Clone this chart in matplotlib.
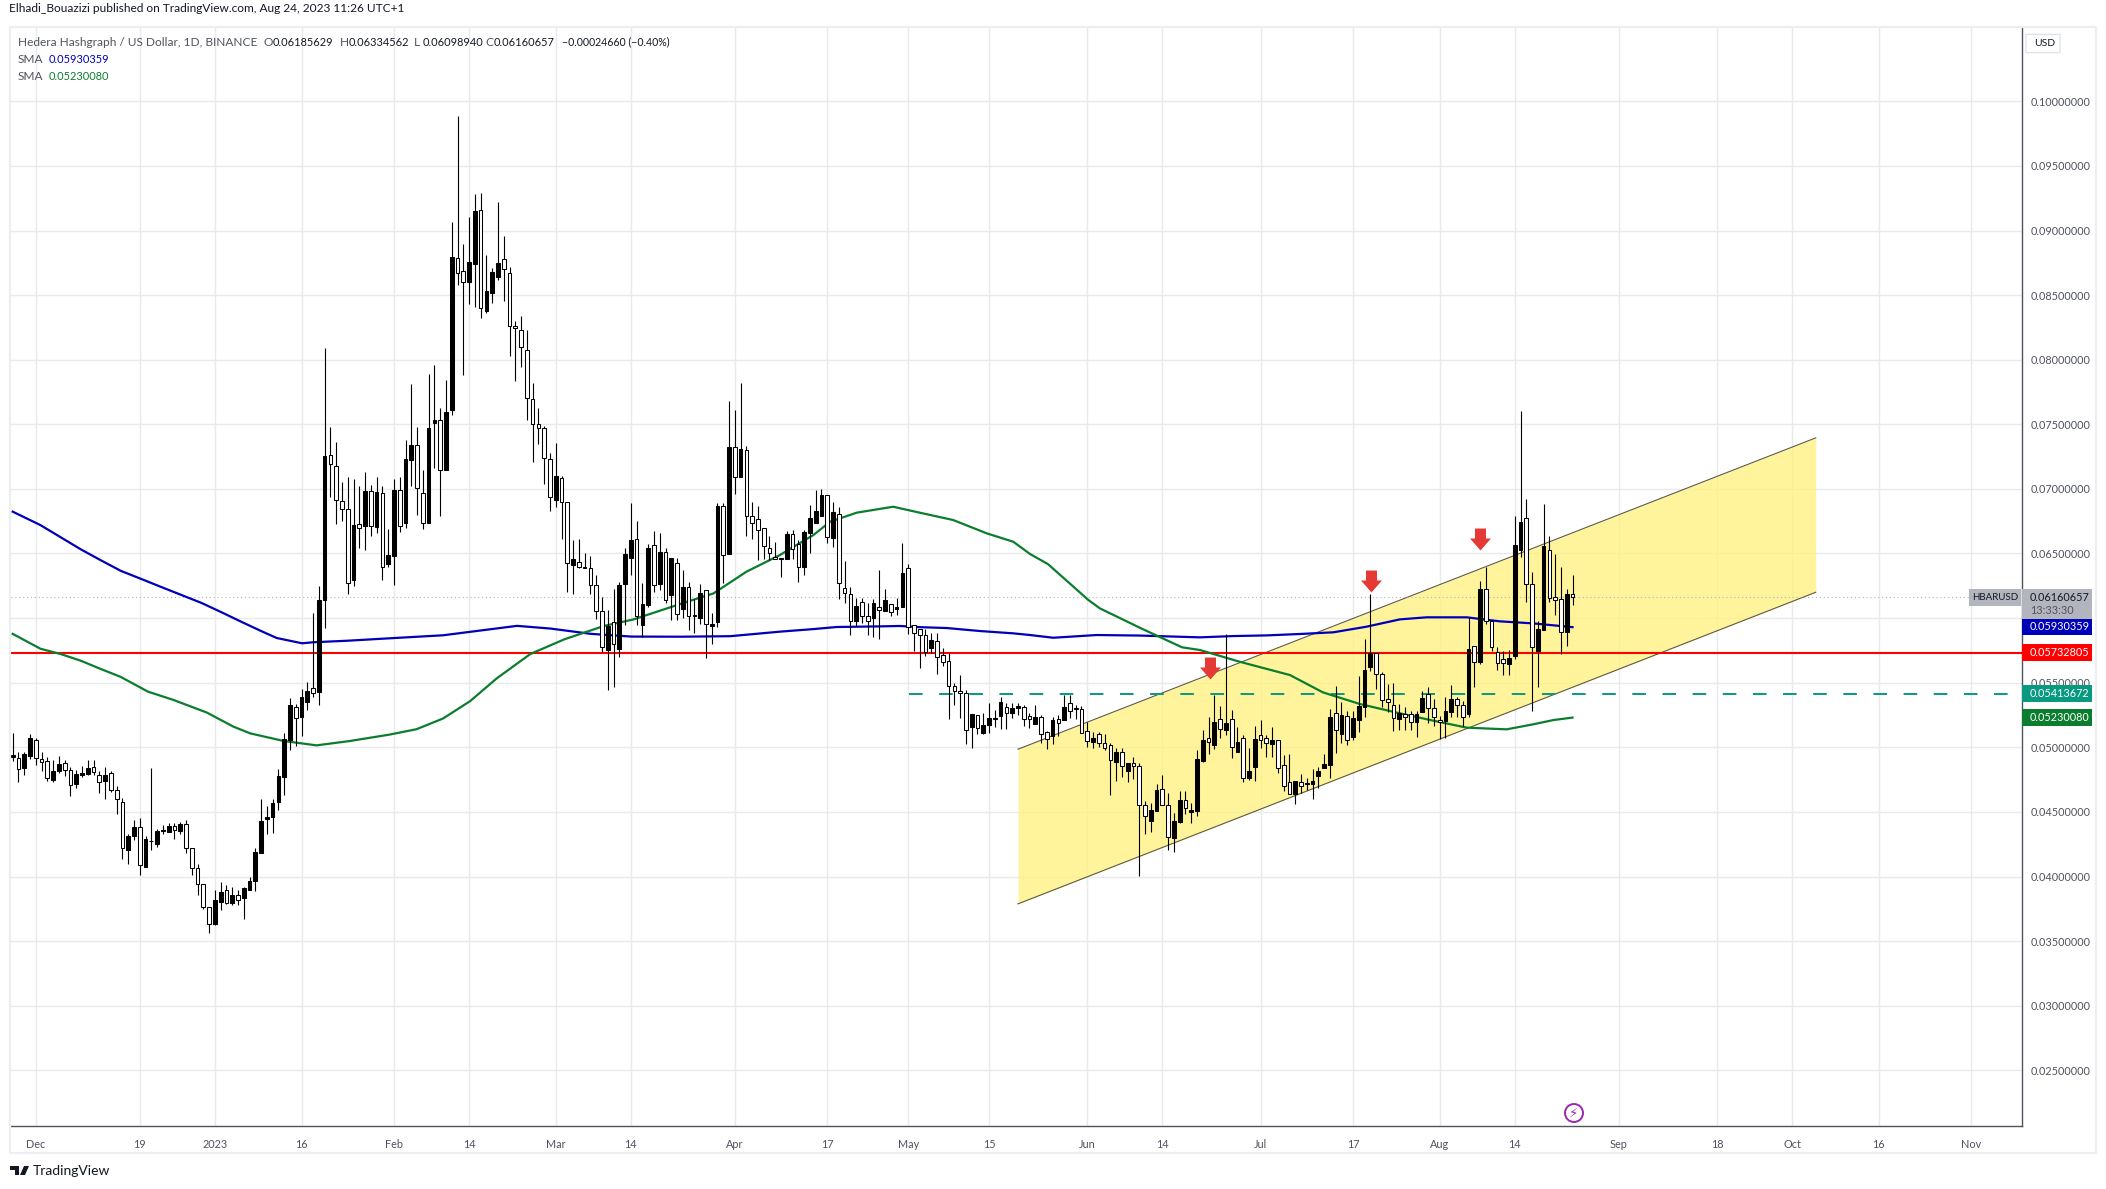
import numpy as np
import matplotlib
matplotlib.use("Agg")
import matplotlib.pyplot as plt
from matplotlib.patches import Rectangle, Circle, Polygon, FancyBboxPatch
from matplotlib.path import Path

# prices below are in 1e-5 USD, one candle per day from 2022-11-27
open_ = [4927,4914,4842,4935,5054,4906,4891,4748,4818,4875,4821,4717,4787,4795,4850,4787,4741,4798,4666,4580,
 4205,4313,4386,4073,4272,4251,4352,4344,4391,4352,4409,4223,4067,3943,3764,3630,3801,3896,3793,3855,
 3832,3894,3964,4181,4445,4461,4578,4772,5059,5311,5238,5347,5456,5425,6142,7266,7181,6909,6841,6295,
 6725,6709,6981,6707,6966,6419,6481,6989,6738,7227,7339,6972,6737,7512,7537,7145,7610,8789,8689,8603,
 8743,9156,8379,8518,8642,8776,8668,8263,8227,8072,7692,7506,7468,7233,6915,7086,6900,6412,6435,6394,
 6391,6260,6056,5750,5970,5760,6262,6464,6616,5950,6102,6562,6262,6515,6180,6430,6068,6238,6024,5998,
 6215,5941,5972,6865,6498,7321,7089,7298,6787,6764,6700,6540,6475,6460,6460,6648,6571,6398,6661,6738,
 6793,6950,6622,6803,6230,6184,5975,6122,6013,5998,6083,6057,6106,6073,6083,6385,5949,5913,5866,5768,
 5820,5712,5665,5477,5433,5418,5160,5252,5113,5175,5222,5245,5314,5263,5301,5309,5245,5183,5232,5116,
 5085,5216,5214,5340,5294,5294,5123,5043,5100,5036,5015,4889,4961,4819,4881,4852,4550,4432,4509,4674,
 4550,4300,4422,4589,4502,4509,4896,5069,5020,5221,5131,5216,4966,5069,4760,4845,5092,5074,5023,5054,
 4865,4729,4636,4734,4726,4713,4780,4842,4865,5263,5100,5245,5082,5211,5314,5624,5727,5565,5371,5325,
 5222,5260,5255,5196,5276,5410,5301,5209,5206,5276,5371,5325,5260,5781,5663,6223,5975,5740,5681,5647,
 5709,6527,6772,6261,5745,5908,6524,6161,6145,5890,6186]
high = [5108,4961,4966,5103,5070,4963,4922,4901,4932,4901,4844,4824,4855,4899,4899,4813,4844,4813,4699,4611,
 4331,4440,4451,4311,4837,4370,4396,4417,4417,4422,4440,4223,4093,3943,3764,3896,3959,3938,3922,3896,
 3922,3997,4223,4598,4549,4598,4829,5108,5380,5336,5450,5505,6041,6246,8087,7478,7362,7051,7090,7077,
 7020,7129,7030,7090,7020,6688,7077,7090,7377,7812,7478,7145,7888,7958,7630,7842,9065,9886,8892,9107,
 9282,9287,8810,8707,9220,8957,8714,8299,8337,8229,7816,7630,7486,7274,7352,7099,6900,6608,6616,6500,
 6479,6330,6164,6061,6229,6280,6546,6887,6750,6268,6577,6673,6655,6546,6464,6464,6372,6279,6145,6261,
 6215,6037,6888,6888,7680,7610,7817,7332,6898,6867,6700,6635,6586,6465,6674,6682,6604,6680,6875,6991,
 6999,6950,6898,6860,6442,6243,6153,6153,6114,6145,6372,6222,6106,6153,6578,6418,5949,5913,5913,5882,
 5882,5771,5732,5495,5557,5443,5255,5252,5263,5340,5289,5387,5340,5340,5340,5327,5263,5325,5250,5129,
 5237,5250,5402,5405,5327,5320,5198,5121,5121,5100,5036,4992,4992,4881,4922,4876,4584,4566,4716,4785,
 4643,4489,4661,4661,4566,4979,5134,5234,5404,5319,5875,5288,5154,5095,4992,5165,5211,5095,5154,5054,
 4940,4948,4736,4793,4765,4832,4850,4945,5294,5474,5348,5283,5278,5554,5836,6184,5727,5585,5487,5495,
 5335,5309,5283,5283,5438,5464,5371,5242,5392,5482,5392,5356,6006,5781,6287,6398,5975,5776,5748,5753,
 6790,7603,6922,6354,5977,6880,6635,6496,6393,6225,6335]
low = [4896,4733,4787,4912,4862,4818,4741,4733,4798,4780,4624,4686,4772,4787,4787,4647,4601,4655,4484,4135,
 4096,4285,4010,4073,4205,4225,4326,4342,4287,4329,4181,4010,3860,3749,3560,3622,3744,3785,3780,3777,
 3668,3894,3891,4181,4326,4337,4513,4629,4979,5013,5088,5285,5386,5324,5922,6940,6730,6753,6186,6248,
 6543,6528,6637,6660,6295,6393,6256,6668,6701,7025,6797,6691,6737,7158,6791,7145,7574,8578,7881,8430,
 8410,8322,8363,8441,8616,8456,8028,7837,7945,7537,7210,7346,7037,6830,6861,6616,6203,6185,6389,6384,
 6190,5990,5740,5441,5470,5700,5950,6332,5950,5850,6087,6203,6216,6118,5984,5984,5998,5908,5887,5954,
 5693,5799,5933,6274,6498,6960,7089,6638,6614,6449,6460,6449,6460,6320,6460,6460,6282,6336,6506,6738,
 6793,6584,6553,6150,6114,5869,5939,5959,5869,5856,5835,6057,6016,6024,6083,5877,5745,5611,5706,5727,
 5564,5629,5216,5327,5229,5028,4992,5100,5100,5113,5154,5144,5142,5224,5250,5165,5147,5183,5031,4984,
 5023,5090,5214,5224,5219,5113,5005,4992,5005,4979,4630,4739,4772,4734,4757,4006,4329,4344,4509,4550,
 4205,4192,4416,4483,4416,4471,4888,4948,4987,5069,5095,4917,4963,4734,4747,4741,4997,4927,4927,4798,
 4664,4636,4561,4643,4669,4600,4687,4842,4765,4958,5036,5018,5060,5121,5237,5593,5451,5309,5276,5129,
 5134,5134,5134,5082,5276,5185,5165,5062,5069,5237,5232,5165,5237,5464,5645,5954,5748,5598,5557,5562,
 5686,6475,6127,5283,5469,5908,6127,6024,5725,5784,6099]
close = [4938,4829,4945,5070,4919,4888,4764,4813,4868,4821,4712,4790,4798,4837,4805,4733,4782,4666,4603,4223,
 4316,4386,4091,4293,4277,4355,4363,4394,4363,4404,4223,4067,3943,3762,3632,3819,3881,3793,3858,3819,
 3912,3966,4192,4432,4464,4572,4774,5062,5326,5225,5388,5435,5419,6142,7253,7191,6916,6841,6274,6717,
 6701,6981,6709,6973,6398,6492,6989,6714,7230,7339,7004,6737,7468,7537,7150,7592,8794,8673,8603,8753,
 9148,8397,8528,8676,8745,8699,8263,8247,8095,7700,7506,7468,7243,6941,7096,6902,6430,6461,6399,6386,
 6260,6056,5780,5940,5800,6254,6495,6608,6017,6113,6541,6260,6508,6143,6464,6035,6238,6019,6016,6191,
 5951,5951,6867,6491,7321,7089,7306,6787,6733,6679,6560,6506,6460,6465,6651,6532,6398,6664,6772,6829,
 6950,6625,6818,6269,6191,5975,6093,6019,5975,6114,6060,6140,6044,6083,6346,5928,5882,5869,5740,5830,
 5701,5662,5477,5433,5418,5131,5255,5147,5170,5224,5227,5348,5263,5304,5317,5216,5216,5234,5105,5062,
 5209,5185,5309,5278,5301,5113,5046,5072,5036,4992,4899,4961,4852,4881,4852,4550,4465,4512,4667,4550,
 4303,4427,4589,4532,4512,4907,5054,5038,5193,5139,5185,5000,5038,4760,4814,5061,5054,5030,5054,4837,
 4698,4636,4736,4698,4713,4736,4814,4868,5232,5131,5250,5054,5224,5320,5598,5727,5565,5363,5353,5224,
 5263,5232,5198,5258,5379,5301,5237,5193,5281,5371,5325,5232,5761,5663,6223,5975,5774,5650,5650,5688,
 6563,6741,6261,5779,5916,6558,6158,6143,5890,6184,6161]

blue_day = [0,4.8,8.3,11.8,15.2,18.7,22.2,25.7,29.2,32.7,36.2,39.6,43.1,45.7,50.1,52,58,64.6,74.5,87.3,93.1,100.1,107.1,115.5,124.2,132.8,138.6,142.6,
 150.1,153.6,157,161.7,167.4,173.2,176.1,180.1,183,187.6,195,205.5,211.3,217,222.8,228.6,234.4,240.1,244.7,251.7,257.4,263.2,270]
blue_sma = [6824,6720,6626,6532,6449,6366,6304,6241,6179,6117,6044,5971,5898,5846,5805,5813,5825,5842,5867,5940,5919,5878,5857,5856,5860,5895,5915,5931,
 5936,5939,5930,5923,5900,5882,5869,5848,5856,5869,5865,5851,5861,5866,5877,5890,5934,5990,6006,6006,5975,5959,5930]
green_day = [0,4.8,8.3,11.8,15.2,18.7,23.4,27.8,33.6,38.2,41.1,46.9,52.6,58.4,65.2,69.9,74.5,79.2,83.8,89.6,95.5,102.4,107.4,116.7,
 121.3,127,132.8,138.6,141.5,146.1,152.4,157,162.8,168.6,173.2,176.1,179.2,186.2,188.2,195.4,202.4,205.5,212.4,221.1,226.8,233.2,
 240.1,245.9,251.7,258.6,263.2,266.7,270]
green_sma = [5878,5763,5722,5670,5607,5545,5431,5367,5269,5160,5108,5049,5015,5049,5098,5140,5223,5358,5534,5722,5836,5940,5989,6126,
 6191,6359,6488,6643,6746,6816,6862,6816,6759,6656,6591,6496,6418,6140,6075,5919,5774,5753,5662,5559,5425,5335,
 5263,5206,5152,5139,5178,5211,5230]

channel_day = [174, 312.1]
channel_top = [4985, 7395]
channel_bottom = [3788, 6200]
arrow_day = [207.2, 235.2, 254]
arrow_price = [5616, 6289, 6612]

red_level = 0.05732805
teal_level = 0.05413672
teal_start = 155.2
last_price = 0.06160657

price_ticks = [0.025 + 0.005 * n for n in range(16)]
tick_days = [4,22,35,50,66,79,94,107,125,141,155,169,186,199,216,232,247,260,278,295,308,323,339]
tick_names = ["Dec","19","2023","16","Feb","14","Mar","14","Apr","17","May","15","Jun","14","Jul","17","Aug","14","Sep","18","Oct","16","Nov"]

W, H = 2106, 1189
grid_col = "#e9eaed"
axis_col = "#50535e"
text_col = "#50535e"
plt.rcParams["font.family"] = ["Lato", "DejaVu Sans"]

def fx(px):
    return px / W

def fy(py):
    return 1 - py / H

fig = plt.figure(figsize=(W / 100, H / 100), dpi=100, facecolor="white")
ax = fig.add_axes([fx(11), fy(1126), fx(2022 - 11), (1126 - 28) / H])

days = np.arange(len(open_))
o = np.array(open_) / 1e5
h = np.array(high) / 1e5
l = np.array(low) / 1e5
c = np.array(close) / 1e5
body_col = ["black" if b >= a else "white" for a, b in zip(o, c)]

ax.fill_between(channel_day, np.array(channel_bottom) / 1e5, np.array(channel_top) / 1e5,
                color="#fff176", alpha=0.72, lw=0, zorder=1)
ax.plot(channel_day, np.array(channel_top) / 1e5, color="#5d5a45", lw=0.8, zorder=2)
ax.plot(channel_day, np.array(channel_bottom) / 1e5, color="#5d5a45", lw=0.8, zorder=2)

ax.axhline(last_price, color="#b2b5be", lw=0.8, ls=(0, (1, 2.5)), zorder=2)
ax.axhline(red_level, color="#ff0000", lw=1.5, zorder=3)
ax.plot([teal_start, 348], [teal_level, teal_level], color="#089981", lw=1.4, ls=(0, (7, 8.5)), zorder=3)

ax.plot(blue_day, np.array(blue_sma) / 1e5, color="#0000b8", lw=1.6, zorder=3)
ax.plot(green_day, np.array(green_sma) / 1e5, color="#0b7d2e", lw=1.6, zorder=3)

ax.vlines(days, l, h, color="black", lw=0.8, zorder=4)
ax.bar(days, np.abs(c - o), bottom=np.minimum(o, c), width=0.64, color=body_col,
       edgecolor="black", linewidth=0.75, zorder=5)

arrow = Path([(-5.5, 11), (5.5, 11), (5.5, 1), (10.5, 1), (0, -11), (-10.5, 1), (-5.5, 1), (-5.5, 11)], closed=True)
ax.plot(arrow_day, np.array(arrow_price) / 1e5, ls="", marker=arrow, ms=15.8, color="#e53935", mec="none", zorder=6)

ax.set_xlim(-0.29, 347.8)
ax.set_ylim(0.05 + (747.3 - 1126) / 12920, 0.05 + (747.3 - 28) / 12920)
ax.set_xticks(tick_days, tick_names)
ax.set_yticks(price_ticks, [f"{p:.8f}" for p in price_ticks])
ax.yaxis.tick_right()
ax.grid(True, color=grid_col, lw=1.0)
ax.set_axisbelow(True)
ax.tick_params(axis="both", length=0, labelcolor=text_col, labelsize=7.8)
ax.tick_params(axis="x", pad=9)
ax.tick_params(axis="y", pad=6)
for side in ["top", "left"]:
    ax.spines[side].set_visible(False)
for side in ["right", "bottom"]:
    ax.spines[side].set_color(axis_col)
    ax.spines[side].set_linewidth(1.0)

# panel frame and price axis tags
fig.add_artist(Rectangle((fx(10), fy(1153)), fx(2096 - 10), (1153 - 27) / H, fill=False, ec="#eceef2", lw=1.6))

def tag(x0, y0, x1, y1, col):
    fig.add_artist(Rectangle((fx(x0), fy(y1)), fx(x1 - x0), (y1 - y0) / H, fc=col, ec="none"))

def txt(x, y, s, col=text_col, size=7.8, **kw):
    fig.text(fx(x), fy(y), s, color=col, fontsize=size, va="center", **kw)

tag(1969, 589, 2021, 606, "#b2b5be")
txt(1972, 597.5, "HBARUSD", "#131722", 7.0)
tag(2022, 589, 2092, 619, "#b2b5be")
txt(2030, 597.5, "0.06160657", "#131722")
txt(2030, 610, "13:33:30", "#50535e")
tag(2022, 619, 2092, 635, "#0000b8")
txt(2030, 627, "0.05930359", "white")
tag(2022, 644, 2092, 661, "#ff0000")
txt(2030, 652.5, "0.05732805", "white")
tag(2022, 685, 2092, 702, "#089981")
txt(2030, 693.5, "0.05413672", "white")
tag(2022, 709, 2092, 726, "#0b7d2e")
txt(2030, 717.5, "0.05230080", "white")

usd_box = FancyBboxPatch((fx(2027), fy(52)), fx(32), 17 / H, boxstyle="round,pad=0.0005",
                         fc="white", ec="#e0e3eb", lw=1.0, transform=fig.transFigure)
fig.add_artist(usd_box)
txt(2034, 43.5, "USD", "#131722", 7.5)

# header and legend
txt(9, 8, "Elhadi_Bouazizi published on TradingView.com, Aug 24, 2023 11:26 UTC+1", "#131722", 8.6)
txt(17.5, 42, "Hedera Hashgraph / US Dollar, 1D, BINANCE", text_col, 8.6)
for x, k, v in [(264, "O", "0.06185629"), (340, "H", "0.06334562"), (414, "L", "0.06098940"), (485, "C", "0.06160657")]:
    txt(x, 42, k, text_col, 8.6)
    txt(x + 9, 42, v, "#131722", 7.9)
txt(562, 42, "\u22120.00024660 (\u22120.40%)", "#131722", 7.6)
txt(17.5, 59.5, "SMA", text_col, 8.6)
txt(49, 59.5, "0.05930359", "#0000b8", 7.9)
txt(17.5, 76, "SMA", text_col, 8.6)
txt(49, 76, "0.05230080", "#0b7d2e", 7.9)

# lightning badge
fig.add_artist(Circle((1574, H - 1113), 9, fill=False, ec="#9c27b0", lw=1.4, transform=None))
fig.text(fx(1574), fy(1113), "\u26a1", color="#9c27b0", fontsize=9.5, ha="center", va="center", family="DejaVu Sans")

# footer logo
fig.add_artist(Polygon([(fx(10), fy(1166)), (fx(19), fy(1166)), (fx(19), fy(1175)), (fx(15), fy(1175)),
                        (fx(15), fy(1170)), (fx(10), fy(1170))], closed=True, fc="#131722", ec="none"))
fig.add_artist(Polygon([(fx(24), fy(1166)), (fx(29), fy(1166)), (fx(25), fy(1175)), (fx(20), fy(1175))],
                       closed=True, fc="#131722", ec="none"))
txt(33, 1171, "TradingView", "#131722", 10)

fig.savefig("out.png", dpi=100)
